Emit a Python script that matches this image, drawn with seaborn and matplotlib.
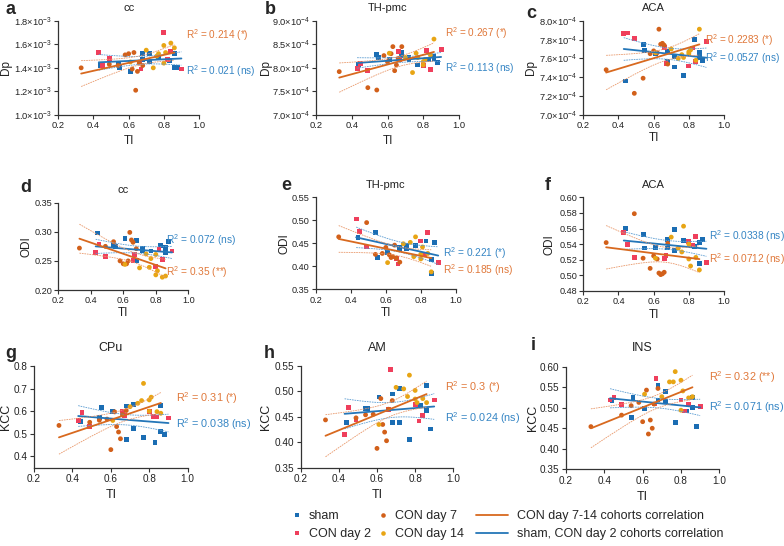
import numpy as np
import pandas as pd
import matplotlib
matplotlib.use("Agg")
import matplotlib.pyplot as plt
import seaborn as sns
from matplotlib.lines import Line2D

sns.set_style("ticks")
plt.rcParams['font.family'] = ['Liberation Sans', 'DejaVu Sans']
plt.rcParams['mathtext.fontset'] = 'custom'
plt.rcParams['mathtext.rm'] = 'Liberation Sans'
plt.rcParams['mathtext.it'] = 'Liberation Sans:italic'

# TI of each animal, per cohort (same animals in every panel)
ti_sham = [0.44, 0.54, 0.55, 0.61, 0.68, 0.68, 0.72, 0.72, 0.77, 0.83, 0.86, 0.86, 0.88]
ti_day2 = [0.43, 0.45, 0.49, 0.66, 0.67, 0.80, 0.82, 0.84, 0.90]
ti_day7 = [0.33, 0.49, 0.54, 0.58, 0.60, 0.62, 0.63, 0.64, 0.65, 0.66, 0.68]
ti_day14 = [0.61, 0.70, 0.74, 0.76, 0.77, 0.80, 0.80, 0.81, 0.84, 0.86]

# a - Dp cc (x1e-3)
dp_cc_sham = np.array([1.42, 1.44, 1.40, 1.37, 1.52, 1.47, 1.52, 1.45, 1.49, 1.46, 1.52, 1.40, 1.40]) * 1e-3
dp_cc_day2 = np.array([1.53, 1.42, 1.48, 1.45, 1.39, 1.70, 1.47, 1.54, 1.39]) * 1e-3
dp_cc_day7 = np.array([1.40, 1.43, 1.42, 1.51, 1.52, 1.39, 1.53, 1.21, 1.37, 1.44, 1.42]) * 1e-3
dp_cc_day14 = np.array([1.45, 1.55, 1.40, 1.50, 1.52, 1.59, 1.44, 1.53, 1.61, 1.57]) * 1e-3

# b - Dp TH-pmc (x1e-4)
dp_th_sham = np.array([8.07, 8.29, 8.22, 8.18, 8.25, 8.32, 8.22, 8.17, 8.06, 8.18, 8.25, 8.20, 8.11]) * 1e-4
dp_th_day2 = np.array([7.98, 8.10, 7.94, 8.34, 8.18, 8.05, 8.37, 7.97, 8.39]) * 1e-4
dp_th_day7 = np.array([7.92, 7.58, 7.53, 8.26, 8.13, 8.30, 8.45, 7.94, 8.06, 8.20, 8.45]) * 1e-4
dp_th_day14 = np.array([8.31, 8.22, 7.90, 8.31, 8.22, 8.13, 8.06, 8.18, 8.27, 8.61]) * 1e-4

# c - Dp ACA (x1e-4)
dp_aca_sham = np.array([7.36, 7.75, 7.68, 7.65, 7.67, 7.57, 7.51, 7.62, 7.42, 7.80, 7.66, 7.61, 7.58]) * 1e-4
dp_aca_day2 = np.array([7.86, 7.87, 7.81, 7.72, 7.55, 7.52, 7.71, 7.57, 7.78]) * 1e-4
dp_aca_day7 = np.array([7.48, 7.23, 7.39, 7.65, 7.68, 7.66, 7.91, 7.75, 7.76, 7.74, 7.54]) * 1e-4
dp_aca_day14 = np.array([7.66, 7.70, 7.60, 7.64, 7.61, 7.65, 7.67, 7.69, 7.58, 7.91]) * 1e-4

# d - ODI cc
odi_cc_sham = [0.298, 0.277, 0.275, 0.289, 0.285, 0.250, 0.272, 0.267, 0.267, 0.277, 0.265, 0.273, 0.284]
odi_cc_day2 = [0.265, 0.278, 0.258, 0.250, 0.261, 0.241, 0.270, 0.253, 0.267]
odi_cc_day7 = [0.272, 0.275, 0.283, 0.250, 0.245, 0.245, 0.250, 0.299, 0.286, 0.282, 0.271]
odi_cc_day14 = [0.244, 0.238, 0.262, 0.239, 0.254, 0.261, 0.226, 0.233, 0.222, 0.224]

# e - ODI TH-pmc
odi_th_sham = [0.462, 0.474, 0.419, 0.430, 0.436, 0.440, 0.446, 0.438, 0.446, 0.455, 0.414, 0.384, 0.452]
odi_th_day2 = [0.503, 0.476, 0.442, 0.417, 0.405, 0.455, 0.426, 0.473, 0.408]
odi_th_day7 = [0.464, 0.495, 0.426, 0.428, 0.441, 0.425, 0.419, 0.421, 0.446, 0.418, 0.409]
odi_th_day14 = [0.408, 0.449, 0.452, 0.421, 0.464, 0.416, 0.426, 0.442, 0.428, 0.388]

# f - ODI ACA
odi_aca_sham = [0.560, 0.552, 0.535, 0.536, 0.546, 0.535, 0.559, 0.532, 0.545, 0.537, 0.542, 0.515, 0.546]
odi_aca_day2 = [0.555, 0.540, 0.523, 0.522, 0.525, 0.543, 0.538, 0.550, 0.517]
odi_aca_day7 = [0.542, 0.579, 0.522, 0.509, 0.525, 0.521, 0.503, 0.501, 0.502, 0.504, 0.541]
odi_aca_day14 = [0.522, 0.549, 0.535, 0.530, 0.563, 0.521, 0.540, 0.512, 0.523, 0.507]

# g - KCC CPu
kcc_cpu_sham = [0.555, 0.573, 0.618, 0.597, 0.623, 0.473, 0.631, 0.523, 0.483, 0.463, 0.509, 0.625, 0.497]
kcc_cpu_day2 = [0.558, 0.593, 0.532, 0.598, 0.582, 0.600, 0.575, 0.574, 0.570]
kcc_cpu_day7 = [0.537, 0.551, 0.560, 0.565, 0.430, 0.597, 0.532, 0.508, 0.478, 0.585, 0.603]
kcc_cpu_day14 = [0.559, 0.620, 0.635, 0.647, 0.723, 0.650, 0.600, 0.662, 0.598, 0.591]

# h - KCC AM
kcc_am_sham = [0.439, 0.467, 0.467, 0.489, 0.495, 0.439, 0.505, 0.439, 0.406, 0.472, 0.462, 0.512, 0.426]
kcc_am_day2 = [0.416, 0.468, 0.445, 0.465, 0.543, 0.475, 0.442, 0.452, 0.483]
kcc_am_day7 = [0.444, 0.448, 0.454, 0.455, 0.388, 0.486, 0.435, 0.420, 0.403, 0.465, 0.482]
kcc_am_day14 = [0.435, 0.508, 0.505, 0.490, 0.532, 0.502, 0.485, 0.478, 0.486, 0.478]

# i - KCC INS
kcc_ins_sham = [0.517, 0.477, 0.525, 0.499, 0.555, 0.519, 0.540, 0.515, 0.464, 0.492, 0.500, 0.524, 0.455]
kcc_ins_day2 = [0.519, 0.525, 0.508, 0.509, 0.571, 0.519, 0.492, 0.507, 0.503]
kcc_ins_day7 = [0.454, 0.482, 0.505, 0.513, 0.466, 0.543, 0.436, 0.470, 0.450, 0.509, 0.547]
kcc_ins_day14 = [0.533, 0.527, 0.563, 0.563, 0.588, 0.567, 0.494, 0.541, 0.524, 0.527]

# R^2 labels as printed in the figure
r2_orange = ["0.214 (*)", "0.267 (*)", "0.2283 (*)", "0.35 (**)", "0.185 (ns)",
             "0.0712 (ns)", "0.31 (*)", "0.3 (*)", "0.32 (**)"]
r2_blue = ["0.021 (ns)", "0.113 (ns)", "0.0527 (ns)", "0.072 (ns)", "0.221 (*)",
           "0.0338 (ns)", "0.038 (ns)", "0.024 (ns)", "0.071 (ns)"]

cohorts = ["sham", "CON day 2", "CON day 7", "CON day 14"]
palette = {"sham": "#1B6DB3", "CON day 2": "#EF3F5C",
           "CON day 7": "#D2601A", "CON day 14": "#E8A514"}
markers = {"sham": "s", "CON day 2": "s", "CON day 7": "o", "CON day 14": "o"}
c_or_line, c_or_ci, c_or_txt = "#D8691F", "#E9996C", "#E0783A"
c_bl_line, c_bl_ci, c_bl_txt = "#2476B8", "#5C9DD2", "#3585C4"

W, H = 784, 546
fig = plt.figure(figsize=(W / 100, H / 100), dpi=100)


def px_axes(l, t, r, b):
    return fig.add_axes([l / W, 1 - b / H, (r - l) / W, (b - t) / H])


def fit_lines(x, y):
    x = np.asarray(x, float)
    y = np.asarray(y, float)
    n = len(x)
    slope, icpt = np.polyfit(x, y, 1)
    xs = np.linspace(x.min(), x.max(), 100)
    yh = icpt + slope * xs
    s = np.sqrt(np.sum((y - (icpt + slope * x)) ** 2) / (n - 2))
    se = s * np.sqrt(1 / n + (xs - x.mean()) ** 2 / np.sum((x - x.mean()) ** 2))
    return xs, yh, yh - 2.09 * se, yh + 2.09 * se


def sci_fmt(exp):
    return lambda v: f"{v / 10 ** exp:.1f}\u00d710$^{{{exp}}}$"


panels = [
    # letter, title, ylabel, data, ylim, ticks, fmt, box, letter pos, text pos,
    # ylabel x, xlabel y, row
    ("a", "cc", "Dp", (dp_cc_sham, dp_cc_day2, dp_cc_day7, dp_cc_day14),
     (1.0e-3, 1.8e-3), np.arange(5) * 0.2e-3 + 1.0e-3, sci_fmt(-3),
     (58.3, 20.7, 199, 115), (6, 10), (0.905, 0.848, 0.47), -0.33, -0.207, 0),
    ("b", "TH-pmc", "Dp", (dp_th_sham, dp_th_day2, dp_th_day7, dp_th_day14),
     (7.0e-4, 9.0e-4), np.arange(5) * 0.5e-4 + 7.0e-4, sci_fmt(-4),
     (316, 20.7, 459, 115), (265, 9.5), (0.90, 0.866, 0.495), -0.305, -0.207, 0),
    ("c", "ACA", "Dp", (dp_aca_sham, dp_aca_day2, dp_aca_day7, dp_aca_day14),
     (7.0e-4, 8.0e-4), np.arange(6) * 0.2e-4 + 7.0e-4, sci_fmt(-4),
     (583.3, 20.7, 724, 115), (526, 13), (0.865, 0.795, 0.60), -0.33, -0.18, 0),
    ("d", "cc", "ODI", (odi_cc_sham, odi_cc_day2, odi_cc_day7, odi_cc_day14),
     (0.20, 0.35), np.arange(4) * 0.05 + 0.20, lambda v: f"{v:.2f}",
     (58.3, 202.7, 188.3, 290), (20, 188), (0.826, 0.203, 0.573), -0.195, -0.195, 1),
    ("e", "TH-pmc", "ODI", (odi_th_sham, odi_th_day2, odi_th_day7, odi_th_day14),
     (0.35, 0.55), np.arange(5) * 0.05 + 0.35, lambda v: f"{v:.2f}",
     (316, 197.3, 455.7, 289.3), (281, 186), (0.911, 0.21, 0.391), -0.183, -0.192, 1),
    ("f", "ACA", "ODI", (odi_aca_sham, odi_aca_day2, odi_aca_day7, odi_aca_day14),
     (0.48, 0.60), np.arange(7) * 0.02 + 0.48, lambda v: f"{v:.2f}",
     (583.3, 197.3, 724, 291), (545, 185), (0.89, 0.338, 0.587), -0.198, -0.187, 1),
    ("g", "CPu", "KCC", (kcc_cpu_sham, kcc_cpu_day2, kcc_cpu_day7, kcc_cpu_day14),
     (0.35, 0.80), np.arange(5) * 0.1 + 0.4, lambda v: f"{v:.1f}",
     (34, 366, 187.7, 467.7), (5, 354), (0.922, 0.682, 0.427), -0.14, -0.21, 2),
    ("h", "AM", "KCC", (kcc_am_sham, kcc_am_day2, kcc_am_day7, kcc_am_day14),
     (0.35, 0.55), np.arange(5) * 0.05 + 0.35, lambda v: f"{v:.2f}",
     (300.7, 366, 453.3, 467.7), (264, 353), (0.945, 0.79, 0.486), -0.185, -0.21, 2),
    ("i", "INS", "KCC", (kcc_ins_sham, kcc_ins_day2, kcc_ins_day7, kcc_ins_day14),
     (0.35, 0.60), np.arange(6) * 0.05 + 0.35, lambda v: f"{v:.2f}",
     (566, 366.7, 719.3, 469.3), (531, 346), (0.93, 0.903, 0.605), -0.176, -0.21, 2),
]

tick_fs = [6.7, 6.6, 7.2]
title_fs = [8, 8, 9]
label_fs = [8.5, 8.5, 9]
r2_fs = [7.2, 7.3, 7.8]
title_pad = [7, 7, 11]

tis = [ti_sham, ti_day2, ti_day7, ti_day14]

for k, (letter, title, ylab, data, ylim, yticks, fmt, box, lpos, tpos,
        ylx, xly, row) in enumerate(panels):
    ax = px_axes(*box)
    df = pd.concat([pd.DataFrame({"TI": t, "value": v, "cohort": c})
                    for t, v, c in zip(tis, data, cohorts)], ignore_index=True)
    sns.scatterplot(data=df, x="TI", y="value", hue="cohort", style="cohort",
                    palette=palette, markers=markers, s=12, linewidth=0,
                    legend=False, ax=ax, zorder=2)

    # cohort correlations: sham + day 2 (blue), day 7 + day 14 (orange)
    for grp, cl, cc in ((["sham", "CON day 2"], c_bl_line, c_bl_ci),
                        (["CON day 7", "CON day 14"], c_or_line, c_or_ci)):
        sub = df[df["cohort"].isin(grp)]
        xs, yh, lo, hi = fit_lines(sub["TI"], sub["value"])
        ax.plot(xs, yh, color=cl, lw=1.3, zorder=3)
        ax.plot(xs, lo, color=cc, lw=0.6, ls=(0, (2, 1)), zorder=3)
        ax.plot(xs, hi, color=cc, lw=0.6, ls=(0, (2, 1)), zorder=3)

    ax.set_xlim(0.2, 1.0)
    ax.set_ylim(*ylim)
    ax.set_xticks([0.2, 0.4, 0.6, 0.8, 1.0])
    ax.set_xticklabels(["0.2", "0.4", "0.6", "0.8", "1.0"])
    ax.set_yticks(yticks)
    ax.set_yticklabels([fmt(v) for v in yticks])
    ax.tick_params(labelsize=tick_fs[row], length=3, width=0.8, pad=1.5,
                   colors="#333333", labelcolor="#222222")
    for sp in ("top", "right"):
        ax.spines[sp].set_visible(False)
    for sp in ("left", "bottom"):
        ax.spines[sp].set_linewidth(0.9)
        ax.spines[sp].set_color("#333333")

    ax.set_title(title, fontsize=title_fs[row], pad=title_pad[row], color="#222222")
    ax.set_xlabel("TI", fontsize=label_fs[row], color="#222222")
    ax.set_ylabel(ylab, fontsize=label_fs[row], color="#222222")
    ax.xaxis.set_label_coords(0.5, xly)
    ax.yaxis.set_label_coords(ylx, 0.5)

    tx, ty_or, ty_bl = tpos
    ax.text(tx, ty_or, "R$^2$ = " + r2_orange[k], transform=ax.transAxes,
            fontsize=r2_fs[row], color=c_or_txt, va="center", ha="left", clip_on=False)
    ax.text(tx, ty_bl, "R$^2$ = " + r2_blue[k], transform=ax.transAxes,
            fontsize=r2_fs[row], color=c_bl_txt, va="center", ha="left", clip_on=False)

    fig.text(lpos[0] / W, 1 - lpos[1] / H, letter, fontsize=13, fontweight="bold",
             ha="left", va="center")

# legend: cohorts (markers) and correlations (lines)
mk_handles = [Line2D([], [], ls="none", marker=markers[c], color=palette[c],
                     markersize=3.3, markeredgewidth=0) for c in cohorts]
fig.legend(mk_handles, cohorts, ncol=2, loc="center left",
           bbox_to_anchor=(292 / W, 1 - 525 / H), frameon=False, fontsize=9,
           handlelength=0.8, handletextpad=0.55, columnspacing=0.55,
           labelspacing=0.5, borderpad=0, borderaxespad=0)
ln_handles = [Line2D([], [], color=c_or_line, lw=1.3), Line2D([], [], color=c_bl_line, lw=1.3)]
fig.legend(ln_handles, ["CON day 7-14 cohorts correlation",
                        "sham, CON day 2 cohorts correlation"],
           loc="center left", bbox_to_anchor=(476 / W, 1 - 525 / H), frameon=False,
           fontsize=9, handlelength=2.6, handletextpad=0.65, labelspacing=0.5,
           borderpad=0, borderaxespad=0)

fig.savefig("out.png", dpi=100)
